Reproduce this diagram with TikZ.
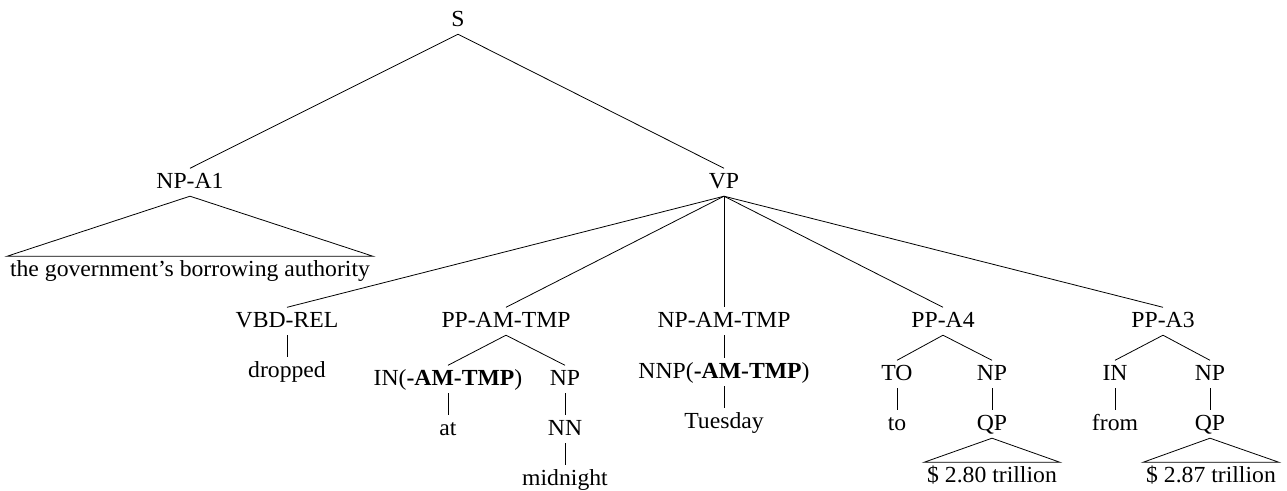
\documentclass[tikz,border=0pt]{standalone}
\usepackage{fontspec}
\setmainfont{Liberation Serif}[FakeStretch=1.03]
\begin{document}
\begin{tikzpicture}[x=1pt,y=-1pt,
  lab/.style={anchor=base,inner xsep=2pt,inner ysep=4pt,text height=15.5pt,text depth=4pt,font=\fontsize{23}{27}\selectfont},
  tri/.style={lab,inner xsep=3pt},
  edge/.style={draw=black,line width=0.8pt}]
\useasboundingbox (0,0) rectangle (1287,490);
% nodes
\node[lab] (S) at (458,26) {S};
\node[lab] (NPA1) at (190,188) {NP-A1};
\node[lab] (VP) at (724,188) {VP};
\node[tri] (gov) at (190,276) {the government’s borrowing authority};
\node[lab] (VBD) at (287,327) {VBD-REL};
\node[lab] (dropped) at (287,377) {dropped};
\node[lab] (PPTMP) at (506,327) {PP-AM-TMP};
\node[lab] (INTMP) at (448,385) {IN(\textbf{-AM-TMP})};
\node[lab] (NPa) at (565,385) {NP};
\node[lab] (at) at (448,435) {at};
\node[lab] (NN) at (565,435) {NN};
\node[lab] (midnight) at (565,485) {midnight};
\node[lab] (NPTMP) at (724,327) {NP-AM-TMP};
\node[lab] (NNP) at (724,378) {NNP(\textbf{-AM-TMP})};
\node[lab] (Tuesday) at (724,428) {Tuesday};
\node[lab] (PPA4) at (943,327) {PP-A4};
\node[lab] (TO) at (897,380) {TO};
\node[lab] (NPb) at (992,380) {NP};
\node[lab] (to) at (897,430) {to};
\node[lab] (QPa) at (992,430) {QP};
\node[tri] (twoeighty) at (992,482) {\$ 2.80 trillion};
\node[lab] (PPA3) at (1163,327) {PP-A3};
\node[lab] (IN) at (1115,380) {IN};
\node[lab] (NPc) at (1210,380) {NP};
\node[lab] (from) at (1115,430) {from};
\node[lab] (QPb) at (1210,430) {QP};
\node[tri] (twoeightyseven) at (1211,482) {\$ 2.87 trillion};
% edges
\draw[edge] (S.south) -- (NPA1.north);
\draw[edge] (S.south) -- (VP.north);
\draw[edge] (NPA1.south) -- (gov.north west) -- (gov.north east) -- cycle;
\draw[edge] (VP.south) -- (VBD.north);
\draw[edge] (VP.south) -- (PPTMP.north);
\draw[edge] (VP.south) -- (NPTMP.north);
\draw[edge] (VP.south) -- (PPA4.north);
\draw[edge] (VP.south) -- (PPA3.north);
\draw[edge] (VBD.south) -- (dropped.north);
\draw[edge] (PPTMP.south) -- (INTMP.north);
\draw[edge] (PPTMP.south) -- (NPa.north);
\draw[edge] (INTMP.south) -- (at.north);
\draw[edge] (NPa.south) -- (NN.north);
\draw[edge] (NN.south) -- (midnight.north);
\draw[edge] (NPTMP.south) -- (NNP.north);
\draw[edge] (NNP.south) -- (Tuesday.north);
\draw[edge] (PPA4.south) -- (TO.north);
\draw[edge] (PPA4.south) -- (NPb.north);
\draw[edge] (TO.south) -- (to.north);
\draw[edge] (NPb.south) -- (QPa.north);
\draw[edge] (QPa.south) -- (twoeighty.north west) -- (twoeighty.north east) -- cycle;
\draw[edge] (PPA3.south) -- (IN.north);
\draw[edge] (PPA3.south) -- (NPc.north);
\draw[edge] (IN.south) -- (from.north);
\draw[edge] (NPc.south) -- (QPb.north);
\draw[edge] (QPb.south) -- (twoeightyseven.north west) -- (twoeightyseven.north east) -- cycle;
\end{tikzpicture}
\end{document}
